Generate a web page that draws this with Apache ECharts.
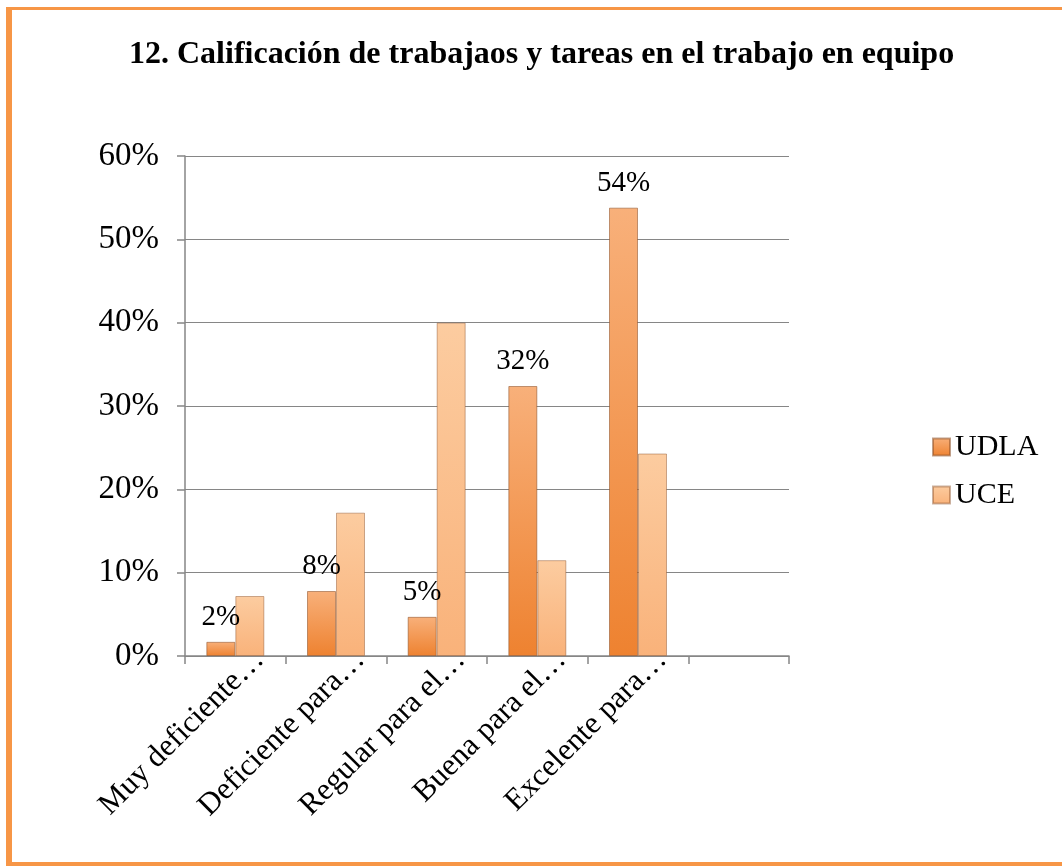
<!DOCTYPE html>
<html>
<head>
<meta charset="utf-8">
<script src="https://cdn.jsdelivr.net/npm/echarts@6/dist/echarts.min.js"></script>
<style>
  html, body { margin: 0; padding: 0; background: #fff; }
  #chart { width: 1062px; height: 866px; }
</style>
</head>
<body>
<div id="chart"></div>
<script>
// datos (porcentajes)
const categories = ['Muy deficiente…', 'Deficiente para…', 'Regular para el…', 'Buena para el…', 'Excelente para…', ''];
const udla = [1.7, 7.8, 4.7, 32.4, 53.8, null];
const uce = [7.2, 17.2, 40, 11.5, 24.3, null];
const udlaLabels = ['2%', '8%', '5%', '32%', '54%', ''];
const yTicks = [0, 10, 20, 30, 40, 50, 60];

const serif = '"Liberation Serif", "Times New Roman", serif';
const gridColor = '#868686';

const chart = echarts.init(document.getElementById('chart'));

const option = {
  backgroundColor: '#fff',
  animation: false,
  title: {
    text: '12. Calificación de trabajaos y tareas en el trabajo en equipo',
    left: 124,
    top: 34,
    textStyle: { fontFamily: serif, fontSize: 32, fontWeight: 'bold', color: '#000' }
  },
  legend: {
    orient: 'vertical',
    left: 927,
    top: 427,
    itemWidth: 17,
    itemHeight: 17,
    itemGap: 18,
    icon: 'rect',
    textStyle: { fontFamily: serif, fontSize: 30, color: '#000' },
    data: ['UDLA', 'UCE']
  },
  graphic: [
    // marco naranja
    { type: 'rect', shape: { x: 6, y: 7, width: 6, height: 859 }, style: { fill: '#F79646' } },
    { type: 'rect', shape: { x: 6, y: 7, width: 1056, height: 3 }, style: { fill: '#F79646' } },
    { type: 'rect', shape: { x: 6, y: 862, width: 1056, height: 4 }, style: { fill: '#F79646' } }
  ],
  grid: { left: 185, right: 273, top: 156, bottom: 210, containLabel: false },
  xAxis: {
    type: 'category',
    data: categories,
    boundaryGap: true,
    axisLine: { lineStyle: { color: gridColor, width: 1.5 } },
    axisTick: { show: true, interval: 0, length: 8, lineStyle: { color: gridColor, width: 1.5 } },
    axisLabel: {
      interval: 0,
      rotate: 45,
      margin: 23,
      padding: [0, -34, 0, 0],
      fontFamily: serif,
      fontSize: 31,
      color: '#000'
    }
  },
  yAxis: {
    type: 'value',
    min: 0,
    max: 60,
    interval: 10,
    axisLine: { show: true, lineStyle: { color: gridColor, width: 1.5 } },
    axisTick: { show: true, length: 8, lineStyle: { color: gridColor, width: 1.5 } },
    splitLine: { lineStyle: { color: gridColor, width: 1.2 } },
    axisLabel: {
      margin: 26,
      fontFamily: serif,
      fontSize: 33,
      color: '#000',
      formatter: v => yTicks.includes(v) ? v + '%' : ''
    }
  },
  series: [
    {
      name: 'UDLA',
      type: 'bar',
      data: udla,
      barWidth: 29,
      barGap: '0%',
      itemStyle: {
        color: new echarts.graphic.LinearGradient(0, 0, 0, 1, [
          { offset: 0, color: '#F8B07A' },
          { offset: 1, color: '#EE8230' }
        ]),
        borderColor: 'rgba(140,80,40,0.55)',
        borderWidth: 1
      },
      label: {
        show: true,
        position: 'top',
        distance: 10,
        fontFamily: serif,
        fontSize: 29,
        color: '#000',
        formatter: p => udlaLabels[p.dataIndex]
      }
    },
    {
      name: 'UCE',
      type: 'bar',
      data: uce,
      barWidth: 29,
      itemStyle: {
        color: new echarts.graphic.LinearGradient(0, 0, 0, 1, [
          { offset: 0, color: '#FCCCA0' },
          { offset: 1, color: '#F9B27A' }
        ]),
        borderColor: 'rgba(140,80,40,0.45)',
        borderWidth: 1
      }
    }
  ]
};

chart.setOption(option);
</script>
</body>
</html>
